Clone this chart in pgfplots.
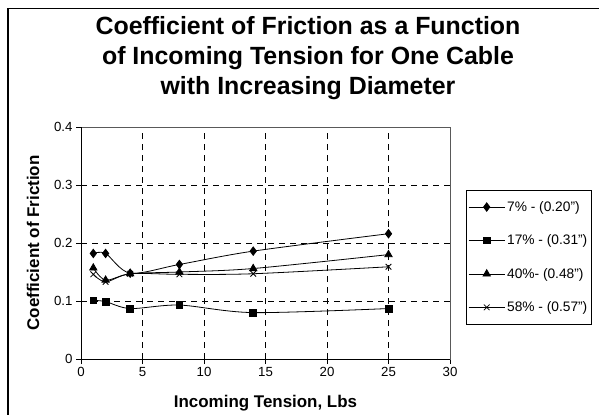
\documentclass[border=0pt]{standalone}
\usepackage{pgfplots}
\pgfplotsset{compat=1.18}
\usepackage{fontspec}
\setmainfont{Liberation Sans}
\begin{document}
\begin{tikzpicture}[x=1bp,y=1bp]
\useasboundingbox (0,0) rectangle (599,414);
\draw[line width=1.6bp] (8,-4) -- (8,405.5) -- (605,405.5);
\node[font=\fontsize{25}{30}\selectfont\bfseries, align=center] at (308,356) {Coefficient of Friction as a Function\\of Incoming Tension for One Cable\\with Increasing Diameter};
\begin{axis}[
  at={(81bp,55bp)}, anchor=south west,
  scale only axis, width=369bp, height=232bp,
  xmin=0, xmax=30, ymin=0, ymax=0.4,
  xtick={0,5,...,30}, ytick={0,0.1,0.2,0.3,0.4},
  grid=major,
  major grid style={black, dash pattern=on 6bp off 5bp, line width=0.6bp},
  axis line style={draw=gray!70!black, line width=0.8bp},
  tick pos=left, tick align=outside, major tick length=5bp,
  tick style={black, line width=0.6bp},
  /pgf/number format/assume math mode=true,
  ticklabel style={font=\fontsize{13.3}{15}\selectfont},
  yticklabel style={/pgf/number format/fixed, /pgf/number format/precision=1},
  xlabel={Incoming Tension, Lbs},
  ylabel={Coefficient of Friction},
  xlabel style={font=\fontsize{17}{20}\selectfont\bfseries, at={(axis description cs:0.5,-0.19)}, anchor=center},
  ylabel style={font=\fontsize{17}{20}\selectfont\bfseries, at={(axis description cs:-0.130,0.5)}, anchor=center},
  legend cell align=left,
  legend style={at={(1.0434,0.7284)}, anchor=north west, draw=black, line width=0.6bp,
    font=\fontsize{13.8}{15}\selectfont, row sep=18bp, inner xsep=2bp, inner ysep=9bp,
    /tikz/every even column/.append style={column sep=4bp}},
  legend image code/.code={\draw[mark repeat=2,mark phase=2] plot coordinates {(0bp,0bp)(18bp,0bp)(36bp,0bp)};},
]
\addplot[black, line width=0.8bp, smooth, tension=0.5, mark=diamond*, mark size=4.2bp, mark options={black, fill=black, solid}] coordinates {(1,0.182)(2,0.182)(4,0.148)(8,0.163)(14,0.186)(25,0.216)};
\addlegendentry{7\% - (0.20")}
\addplot[black, line width=0.8bp, smooth, tension=0.5, mark=square*, mark size=3.4bp, mark options={black, fill=black, solid}] coordinates {(1,0.101)(2,0.099)(4,0.087)(8,0.093)(14,0.080)(25,0.087)};
\addlegendentry{17\% - (0.31")}
\addplot[black, line width=0.8bp, smooth, tension=0.5, mark=triangle*, mark size=4.2bp, mark options={black, fill=black, solid}] coordinates {(1,0.157)(2,0.136)(4,0.147)(8,0.150)(14,0.156)(25,0.180)};
\addlegendentry{40\%- (0.48")}
\addplot[black, line width=0.8bp, smooth, tension=0.5, mark=x, mark size=4bp, mark options={black, solid, line width=0.8bp}] coordinates {(1,0.146)(2,0.133)(4,0.147)(8,0.146)(14,0.147)(25,0.159)};
\addlegendentry{58\% - (0.57")}
\draw[black, line width=0.9bp] (rel axis cs:0,1) -- (rel axis cs:0,0) -- (rel axis cs:1,0);
\end{axis}
\end{tikzpicture}
\end{document}
